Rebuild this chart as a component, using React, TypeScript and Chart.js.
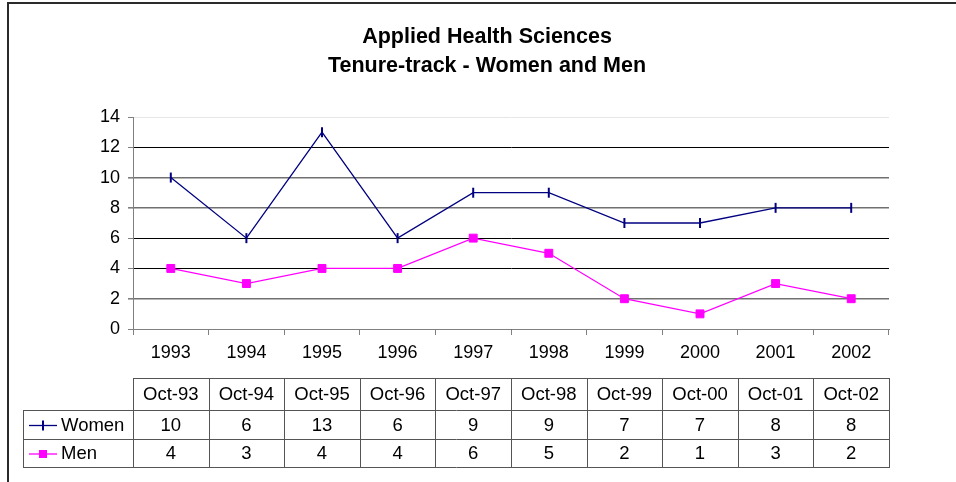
import React, { useEffect, useRef } from 'react';
import { Chart, registerables } from 'chart.js';

Chart.register(...registerables);

const years = ['1993', '1994', '1995', '1996', '1997', '1998', '1999', '2000', '2001', '2002'];
const tableHeaders = ['Oct-93', 'Oct-94', 'Oct-95', 'Oct-96', 'Oct-97', 'Oct-98', 'Oct-99', 'Oct-00', 'Oct-01', 'Oct-02'];
const women = [10, 6, 13, 6, 9, 9, 7, 7, 8, 8];
const men = [4, 3, 4, 4, 6, 5, 2, 1, 3, 2];
const seriesNames = ['Women', 'Men'];
const titleLines = ['Applied Health Sciences', 'Tenure-track - Women and Men'];

const FONT = '"Liberation Sans", Arial, Helvetica, sans-serif';
const WOMEN_COLOR = '#000080';
const MEN_COLOR = '#FF00FF';

const framePlugin = {
  id: 'frame',
  beforeDraw(chart: any) {
    const ctx = chart.ctx;
    ctx.save();
    ctx.fillStyle = '#ffffff';
    ctx.fillRect(0, 0, chart.width, chart.height);
    ctx.fillStyle = '#2a2a2a';
    ctx.fillRect(7, 2, 2, chart.height);
    ctx.fillRect(7, 2, chart.width, 2);
    ctx.restore();
  },
};

const titlePlugin = {
  id: 'excelTitle',
  afterDraw(chart: any) {
    const ctx = chart.ctx;
    ctx.save();
    ctx.font = `bold 21.5px ${FONT}`;
    ctx.fillStyle = '#000';
    ctx.textAlign = 'center';
    ctx.textBaseline = 'middle';
    ctx.fillText(titleLines[0], 487, 37);
    ctx.fillText(titleLines[1], 487, 66);
    ctx.restore();
  },
};

function drawMarker(ctx: CanvasRenderingContext2D, idx: number, cx: number, cy: number) {
  ctx.save();
  if (idx === 0) {
    ctx.strokeStyle = WOMEN_COLOR;
    ctx.lineWidth = 1.3;
    ctx.beginPath();
    ctx.moveTo(cx - 14, cy);
    ctx.lineTo(cx + 14, cy);
    ctx.stroke();
    ctx.lineWidth = 2;
    ctx.beginPath();
    ctx.moveTo(cx, cy - 5);
    ctx.lineTo(cx, cy + 5);
    ctx.stroke();
  } else {
    ctx.strokeStyle = MEN_COLOR;
    ctx.fillStyle = MEN_COLOR;
    ctx.lineWidth = 1.3;
    ctx.beginPath();
    ctx.moveTo(cx - 14, cy);
    ctx.lineTo(cx + 14, cy);
    ctx.stroke();
    ctx.fillRect(cx - 4, cy - 4, 8, 8);
  }
  ctx.restore();
}

const tablePlugin = {
  id: 'dataTable',
  afterDraw(chart: any) {
    const ctx: CanvasRenderingContext2D = chart.ctx;
    const xs = chart.scales.x;
    const area = chart.chartArea;
    const n = years.length;
    const step = xs.getPixelForValue(1) - xs.getPixelForValue(0);
    const left = Math.round(xs.getPixelForValue(0) - step / 2);
    const right = Math.round(xs.getPixelForValue(n - 1) + step / 2);
    const hTop = Math.round(area.bottom + 49);
    const hBot = hTop + 32;
    const r1 = hBot + 29;
    const r2 = r1 + 28;
    const legLeft = 23;
    ctx.save();
    ctx.strokeStyle = '#555';
    ctx.lineWidth = 1;
    const hline = (y: number, x0: number, x1: number) => {
      ctx.beginPath();
      ctx.moveTo(x0, y + 0.5);
      ctx.lineTo(x1 + 1, y + 0.5);
      ctx.stroke();
    };
    const vline = (x: number, y0: number, y1: number) => {
      ctx.beginPath();
      ctx.moveTo(x + 0.5, y0);
      ctx.lineTo(x + 0.5, y1 + 1);
      ctx.stroke();
    };
    hline(hTop, left, right);
    hline(hBot, legLeft, right);
    hline(r1, legLeft, right);
    hline(r2, legLeft, right);
    vline(legLeft, hBot, r2);
    for (let i = 0; i <= n; i++) {
      vline(Math.round(xs.getPixelForValue(0) - step / 2 + i * step), hTop, r2);
    }
    ctx.font = `18.5px ${FONT}`;
    ctx.fillStyle = '#000';
    ctx.textBaseline = 'middle';
    ctx.textAlign = 'center';
    const rows = [women, men];
    const rowMid = [(hBot + r1) / 2 + 1, (r1 + r2) / 2 + 1];
    for (let i = 0; i < n; i++) {
      const cx = xs.getPixelForValue(i);
      ctx.fillText(tableHeaders[i], cx, (hTop + hBot) / 2 + 1);
      rows.forEach((r, k) => ctx.fillText(String(r[i]), cx, rowMid[k]));
    }
    ctx.textAlign = 'left';
    seriesNames.forEach((name, k) => {
      drawMarker(ctx, k, legLeft + 20, rowMid[k]);
      ctx.fillStyle = '#000';
      ctx.fillText(name, legLeft + 38, rowMid[k]);
    });
    ctx.restore();
  },
};

export default function App() {
  const ref = useRef<HTMLCanvasElement | null>(null);
  useEffect(() => {
    if (!ref.current) return;
    const chart = new Chart(ref.current, {
      type: 'line',
      data: {
        labels: years,
        datasets: [
          {
            label: seriesNames[0],
            data: women,
            borderColor: WOMEN_COLOR,
            backgroundColor: WOMEN_COLOR,
            borderWidth: 1.3,
            pointStyle: 'line',
            pointRotation: 90,
            pointRadius: 5,
            pointBorderWidth: 2,
            pointBorderColor: WOMEN_COLOR,
            tension: 0,
          },
          {
            label: seriesNames[1],
            data: men,
            borderColor: MEN_COLOR,
            backgroundColor: MEN_COLOR,
            borderWidth: 1.3,
            pointStyle: 'rect',
            pointRadius: 5.6,
            pointBorderWidth: 1,
            pointBorderColor: MEN_COLOR,
            pointBackgroundColor: MEN_COLOR,
            tension: 0,
          },
        ],
      },
      options: {
        responsive: false,
        animation: false,
        events: [],
        layout: { padding: { left: 0, right: 67, top: 117, bottom: 0 } },
        plugins: {
          legend: { display: false },
          title: { display: false },
          tooltip: { enabled: false },
        },
        scales: {
          x: {
            offset: true,
            grid: {
              offset: true,
              drawOnChartArea: false,
              drawTicks: true,
              tickLength: 6,
              color: '#808080',
            },
            border: { color: '#808080' },
            ticks: {
              font: { family: FONT, size: 18 },
              color: '#000',
              padding: 7,
              maxRotation: 0,
              autoSkip: false,
            },
            afterFit: (s: any) => {
              s.height = 153;
            },
          },
          y: {
            min: 0,
            max: 14,
            ticks: {
              stepSize: 2,
              font: { family: FONT, size: 18 },
              color: '#000',
              padding: 8,
            },
            grid: {
              color: (c: any) => {
                const v = c.tick ? c.tick.value : 0;
                if (v === 14) return '#e6e6e6';
                if (v === 10 || v === 8 || v === 2) return '#707070';
                return '#000000';
              },
              lineWidth: (c: any) => {
                const v = c.tick ? c.tick.value : 0;
                return v === 10 || v === 8 || v === 2 ? 1.6 : 1;
              },
              tickColor: '#808080',
              tickLength: 5,
            },
            border: { color: '#808080' },
            afterFit: (s: any) => {
              s.width = 133;
            },
          },
        },
      },
      plugins: [framePlugin, titlePlugin, tablePlugin],
    });
    return () => chart.destroy();
  }, []);
  return (
    <div style={{ position: 'fixed', left: 0, top: 0, width: 956, height: 482 }}>
      <canvas ref={ref} width={956} height={482} style={{ display: 'block' }} />
    </div>
  );
}
